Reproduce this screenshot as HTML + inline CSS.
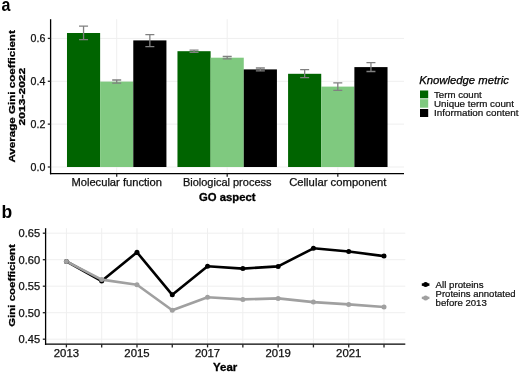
<!DOCTYPE html>
<html><head><meta charset="utf-8"><style>
html,body{margin:0;padding:0;background:#fff;overflow:hidden;width:520px;height:372px;}
svg{display:block;font-family:"Liberation Sans", sans-serif;will-change:transform;}
</style></head><body>
<svg width="520" height="372" viewBox="0 0 520 372">
<rect width="520" height="372" fill="#fff"/>
<line x1="50.6" x2="404.0" y1="167.00" y2="167.00" stroke="#efefef" stroke-width="1"/>
<line x1="50.6" x2="404.0" y1="124.13" y2="124.13" stroke="#efefef" stroke-width="1"/>
<line x1="50.6" x2="404.0" y1="81.27" y2="81.27" stroke="#efefef" stroke-width="1"/>
<line x1="50.6" x2="404.0" y1="38.40" y2="38.40" stroke="#efefef" stroke-width="1"/>
<line x1="116.7" x2="116.7" y1="19.2" y2="173.65" stroke="#efefef" stroke-width="1"/>
<line x1="227.2" x2="227.2" y1="19.2" y2="173.65" stroke="#efefef" stroke-width="1"/>
<line x1="337.8" x2="337.8" y1="19.2" y2="173.65" stroke="#efefef" stroke-width="1"/>
<rect x="66.98" y="33.00" width="33.15" height="134.00" fill="#006400"/>
<rect x="100.12" y="81.60" width="33.15" height="85.40" fill="#7fc97f"/>
<rect x="133.28" y="40.40" width="33.15" height="126.60" fill="#000000"/>
<rect x="177.47" y="51.20" width="33.15" height="115.80" fill="#006400"/>
<rect x="210.62" y="57.70" width="33.15" height="109.30" fill="#7fc97f"/>
<rect x="243.77" y="69.40" width="33.15" height="97.60" fill="#000000"/>
<rect x="288.08" y="73.80" width="33.15" height="93.20" fill="#006400"/>
<rect x="321.23" y="86.60" width="33.15" height="80.40" fill="#7fc97f"/>
<rect x="354.38" y="67.10" width="33.15" height="99.90" fill="#000000"/>
<path d="M79.05 26.2H88.05M83.55 26.2V39.7M79.05 39.7H88.05" stroke="#808080" stroke-width="1.3" fill="none"/>
<path d="M112.20 80.0H121.20M116.70 80.0V83.1M112.20 83.1H121.20" stroke="#808080" stroke-width="1.3" fill="none"/>
<path d="M145.35 34.6H154.35M149.85 34.6V46.6M145.35 46.6H154.35" stroke="#808080" stroke-width="1.3" fill="none"/>
<path d="M189.55 50.1H198.55M194.05 50.1V52.3M189.55 52.3H198.55" stroke="#808080" stroke-width="1.3" fill="none"/>
<path d="M222.70 56.5H231.70M227.20 56.5V58.8M222.70 58.8H231.70" stroke="#808080" stroke-width="1.3" fill="none"/>
<path d="M255.85 68.0H264.85M260.35 68.0V70.8M255.85 70.8H264.85" stroke="#808080" stroke-width="1.3" fill="none"/>
<path d="M300.15 69.6H309.15M304.65 69.6V77.7M300.15 77.7H309.15" stroke="#808080" stroke-width="1.3" fill="none"/>
<path d="M333.30 82.8H342.30M337.80 82.8V90.4M333.30 90.4H342.30" stroke="#808080" stroke-width="1.3" fill="none"/>
<path d="M366.45 62.7H375.45M370.95 62.7V71.5M366.45 71.5H375.45" stroke="#808080" stroke-width="1.3" fill="none"/>
<line x1="50.6" x2="50.6" y1="19.2" y2="174.3" stroke="#000" stroke-width="1.3"/>
<line x1="49.95" x2="404.0" y1="173.65" y2="173.65" stroke="#000" stroke-width="1.3"/>
<line x1="47.800000000000004" x2="50.6" y1="167.00" y2="167.00" stroke="#222" stroke-width="1.3"/>
<line x1="47.800000000000004" x2="50.6" y1="124.13" y2="124.13" stroke="#222" stroke-width="1.3"/>
<line x1="47.800000000000004" x2="50.6" y1="81.27" y2="81.27" stroke="#222" stroke-width="1.3"/>
<line x1="47.800000000000004" x2="50.6" y1="38.40" y2="38.40" stroke="#222" stroke-width="1.3"/>
<line x1="116.7" x2="116.7" y1="173.65" y2="176.65" stroke="#222" stroke-width="1.3"/>
<line x1="227.2" x2="227.2" y1="173.65" y2="176.65" stroke="#222" stroke-width="1.3"/>
<line x1="337.8" x2="337.8" y1="173.65" y2="176.65" stroke="#222" stroke-width="1.3"/>
<text x="45.3" y="170.90" text-anchor="end" font-size="10" fill="#111" stroke="#111" stroke-width="0.25" textLength="14.8" lengthAdjust="spacingAndGlyphs">0.0</text>
<text x="45.3" y="128.03" text-anchor="end" font-size="10" fill="#111" stroke="#111" stroke-width="0.25" textLength="14.8" lengthAdjust="spacingAndGlyphs">0.2</text>
<text x="45.3" y="85.17" text-anchor="end" font-size="10" fill="#111" stroke="#111" stroke-width="0.25" textLength="14.8" lengthAdjust="spacingAndGlyphs">0.4</text>
<text x="45.3" y="42.30" text-anchor="end" font-size="10" fill="#111" stroke="#111" stroke-width="0.25" textLength="14.8" lengthAdjust="spacingAndGlyphs">0.6</text>
<text x="71.40" y="185.7" font-size="10.1" fill="#111" stroke="#111" stroke-width="0.25" textLength="90.6" lengthAdjust="spacingAndGlyphs">Molecular function</text>
<text x="182.90" y="185.7" font-size="10.1" fill="#111" stroke="#111" stroke-width="0.25" textLength="88.6" lengthAdjust="spacingAndGlyphs">Biological process</text>
<text x="289.20" y="185.7" font-size="10.1" fill="#111" stroke="#111" stroke-width="0.25" textLength="97.2" lengthAdjust="spacingAndGlyphs">Cellular component</text>
<text x="199.10" y="200.6" font-size="10.1" font-weight="bold" stroke="#000" stroke-width="0.3" fill="#000" textLength="56.4" lengthAdjust="spacingAndGlyphs">GO aspect</text>
<text transform="translate(14.6 96.4) rotate(-90)" text-anchor="middle" font-size="9.9" font-weight="bold" stroke="#000" stroke-width="0.3" textLength="132.4" lengthAdjust="spacingAndGlyphs">Average Gini coefficient</text>
<text transform="translate(24.9 96.6) rotate(-90)" text-anchor="middle" font-size="9.3" font-weight="bold" stroke="#000" stroke-width="0.3" textLength="57.8" lengthAdjust="spacingAndGlyphs">2013-2022</text>
<text x="1.5" y="10.8" font-size="18" font-weight="bold" textLength="8.9" lengthAdjust="spacingAndGlyphs">a</text>
<text x="419.2" y="83.8" font-size="10" font-style="italic" fill="#000" stroke="#000" stroke-width="0.25" textLength="89.8" lengthAdjust="spacingAndGlyphs">Knowledge metric</text>
<rect x="420" y="90.5" width="8.2" height="7.80" fill="#006400"/>
<text x="434.0" y="98.0" font-size="9.2" fill="#111" stroke="#111" stroke-width="0.22" textLength="47.8" lengthAdjust="spacingAndGlyphs">Term count</text>
<rect x="420" y="99.2" width="8.2" height="8.50" fill="#7fc97f"/>
<text x="434.0" y="107.0" font-size="9.2" fill="#111" stroke="#111" stroke-width="0.22" textLength="80.0" lengthAdjust="spacingAndGlyphs">Unique term count</text>
<rect x="420" y="109.0" width="8.2" height="8.00" fill="#000000"/>
<text x="434.0" y="116.1" font-size="9.2" fill="#111" stroke="#111" stroke-width="0.22" textLength="84.4" lengthAdjust="spacingAndGlyphs">Information content</text>
<line x1="45.6" x2="405.3" y1="339.20" y2="339.20" stroke="#efefef" stroke-width="1"/>
<line x1="45.6" x2="405.3" y1="312.70" y2="312.70" stroke="#efefef" stroke-width="1"/>
<line x1="45.6" x2="405.3" y1="286.20" y2="286.20" stroke="#efefef" stroke-width="1"/>
<line x1="45.6" x2="405.3" y1="259.70" y2="259.70" stroke="#efefef" stroke-width="1"/>
<line x1="45.6" x2="405.3" y1="233.20" y2="233.20" stroke="#efefef" stroke-width="1"/>
<line x1="66.40" x2="66.40" y1="228.2" y2="344.2" stroke="#efefef" stroke-width="1"/>
<line x1="101.69" x2="101.69" y1="228.2" y2="344.2" stroke="#efefef" stroke-width="1"/>
<line x1="136.98" x2="136.98" y1="228.2" y2="344.2" stroke="#efefef" stroke-width="1"/>
<line x1="172.27" x2="172.27" y1="228.2" y2="344.2" stroke="#efefef" stroke-width="1"/>
<line x1="207.56" x2="207.56" y1="228.2" y2="344.2" stroke="#efefef" stroke-width="1"/>
<line x1="242.85" x2="242.85" y1="228.2" y2="344.2" stroke="#efefef" stroke-width="1"/>
<line x1="278.14" x2="278.14" y1="228.2" y2="344.2" stroke="#efefef" stroke-width="1"/>
<line x1="313.43" x2="313.43" y1="228.2" y2="344.2" stroke="#efefef" stroke-width="1"/>
<line x1="348.72" x2="348.72" y1="228.2" y2="344.2" stroke="#efefef" stroke-width="1"/>
<line x1="384.01" x2="384.01" y1="228.2" y2="344.2" stroke="#efefef" stroke-width="1"/>
<polyline points="66.40,261.4 101.69,281.0 136.98,252.3 172.27,294.8 207.56,266.2 242.85,268.6 278.14,266.4 313.43,248.3 348.72,251.5 384.01,256.1" fill="none" stroke="#000" stroke-width="2.6" stroke-linejoin="round"/>
<polyline points="66.40,261.4 101.69,279.6 136.98,284.8 172.27,310.3 207.56,297.2 242.85,299.4 278.14,298.4 313.43,302.1 348.72,304.4 384.01,307.0" fill="none" stroke="#a0a0a0" stroke-width="2.6" stroke-linejoin="round"/>
<circle cx="66.40" cy="261.4" r="2.5" fill="#000"/>
<circle cx="101.69" cy="281.0" r="2.5" fill="#000"/>
<circle cx="136.98" cy="252.3" r="2.5" fill="#000"/>
<circle cx="172.27" cy="294.8" r="2.5" fill="#000"/>
<circle cx="207.56" cy="266.2" r="2.5" fill="#000"/>
<circle cx="242.85" cy="268.6" r="2.5" fill="#000"/>
<circle cx="278.14" cy="266.4" r="2.5" fill="#000"/>
<circle cx="313.43" cy="248.3" r="2.5" fill="#000"/>
<circle cx="348.72" cy="251.5" r="2.5" fill="#000"/>
<circle cx="384.01" cy="256.1" r="2.5" fill="#000"/>
<circle cx="66.40" cy="261.4" r="2.5" fill="#a0a0a0"/>
<circle cx="101.69" cy="279.6" r="2.5" fill="#a0a0a0"/>
<circle cx="136.98" cy="284.8" r="2.5" fill="#a0a0a0"/>
<circle cx="172.27" cy="310.3" r="2.5" fill="#a0a0a0"/>
<circle cx="207.56" cy="297.2" r="2.5" fill="#a0a0a0"/>
<circle cx="242.85" cy="299.4" r="2.5" fill="#a0a0a0"/>
<circle cx="278.14" cy="298.4" r="2.5" fill="#a0a0a0"/>
<circle cx="313.43" cy="302.1" r="2.5" fill="#a0a0a0"/>
<circle cx="348.72" cy="304.4" r="2.5" fill="#a0a0a0"/>
<circle cx="384.01" cy="307.0" r="2.5" fill="#a0a0a0"/>
<line x1="45.6" x2="45.6" y1="228.2" y2="344.84999999999997" stroke="#000" stroke-width="1.3"/>
<line x1="44.95" x2="405.3" y1="344.2" y2="344.2" stroke="#000" stroke-width="1.3"/>
<line x1="42.800000000000004" x2="45.6" y1="339.20" y2="339.20" stroke="#222" stroke-width="1.3"/>
<line x1="42.800000000000004" x2="45.6" y1="312.70" y2="312.70" stroke="#222" stroke-width="1.3"/>
<line x1="42.800000000000004" x2="45.6" y1="286.20" y2="286.20" stroke="#222" stroke-width="1.3"/>
<line x1="42.800000000000004" x2="45.6" y1="259.70" y2="259.70" stroke="#222" stroke-width="1.3"/>
<line x1="42.800000000000004" x2="45.6" y1="233.20" y2="233.20" stroke="#222" stroke-width="1.3"/>
<line x1="66.40" x2="66.40" y1="344.2" y2="347.4" stroke="#222" stroke-width="1.3"/>
<line x1="101.69" x2="101.69" y1="344.2" y2="347.4" stroke="#222" stroke-width="1.3"/>
<line x1="136.98" x2="136.98" y1="344.2" y2="347.4" stroke="#222" stroke-width="1.3"/>
<line x1="172.27" x2="172.27" y1="344.2" y2="347.4" stroke="#222" stroke-width="1.3"/>
<line x1="207.56" x2="207.56" y1="344.2" y2="347.4" stroke="#222" stroke-width="1.3"/>
<line x1="242.85" x2="242.85" y1="344.2" y2="347.4" stroke="#222" stroke-width="1.3"/>
<line x1="278.14" x2="278.14" y1="344.2" y2="347.4" stroke="#222" stroke-width="1.3"/>
<line x1="313.43" x2="313.43" y1="344.2" y2="347.4" stroke="#222" stroke-width="1.3"/>
<line x1="348.72" x2="348.72" y1="344.2" y2="347.4" stroke="#222" stroke-width="1.3"/>
<line x1="384.01" x2="384.01" y1="344.2" y2="347.4" stroke="#222" stroke-width="1.3"/>
<text x="40.2" y="343.40" text-anchor="end" font-size="10" fill="#111" stroke="#111" stroke-width="0.25" textLength="21.6" lengthAdjust="spacingAndGlyphs">0.45</text>
<text x="40.2" y="316.90" text-anchor="end" font-size="10" fill="#111" stroke="#111" stroke-width="0.25" textLength="21.6" lengthAdjust="spacingAndGlyphs">0.50</text>
<text x="40.2" y="290.40" text-anchor="end" font-size="10" fill="#111" stroke="#111" stroke-width="0.25" textLength="21.6" lengthAdjust="spacingAndGlyphs">0.55</text>
<text x="40.2" y="263.90" text-anchor="end" font-size="10" fill="#111" stroke="#111" stroke-width="0.25" textLength="21.6" lengthAdjust="spacingAndGlyphs">0.60</text>
<text x="40.2" y="237.40" text-anchor="end" font-size="10" fill="#111" stroke="#111" stroke-width="0.25" textLength="21.6" lengthAdjust="spacingAndGlyphs">0.65</text>
<text x="53.80" y="356.6" font-size="10" fill="#111" stroke="#111" stroke-width="0.25" textLength="25.2" lengthAdjust="spacingAndGlyphs">2013</text>
<text x="124.38" y="356.6" font-size="10" fill="#111" stroke="#111" stroke-width="0.25" textLength="25.2" lengthAdjust="spacingAndGlyphs">2015</text>
<text x="194.96" y="356.6" font-size="10" fill="#111" stroke="#111" stroke-width="0.25" textLength="25.2" lengthAdjust="spacingAndGlyphs">2017</text>
<text x="265.54" y="356.6" font-size="10" fill="#111" stroke="#111" stroke-width="0.25" textLength="25.2" lengthAdjust="spacingAndGlyphs">2019</text>
<text x="336.12" y="356.6" font-size="10" fill="#111" stroke="#111" stroke-width="0.25" textLength="25.2" lengthAdjust="spacingAndGlyphs">2021</text>
<text x="213.10" y="370.9" font-size="10.1" font-weight="bold" stroke="#000" stroke-width="0.3" textLength="24.2" lengthAdjust="spacingAndGlyphs">Year</text>
<text transform="translate(14.7 285.4) rotate(-90)" text-anchor="middle" font-size="9.9" font-weight="bold" stroke="#000" stroke-width="0.3" textLength="82.6" lengthAdjust="spacingAndGlyphs">Gini coefficient</text>
<text x="1.6" y="217.6" font-size="17.5" font-weight="bold">b</text>
<line x1="421.8" x2="429.4" y1="284.6" y2="284.6" stroke="#000" stroke-width="2.6"/>
<circle cx="425.6" cy="284.6" r="2.5" fill="#000"/>
<line x1="421.8" x2="429.4" y1="297.9" y2="297.9" stroke="#a0a0a0" stroke-width="2.4"/>
<circle cx="425.6" cy="297.9" r="2.5" fill="#a0a0a0"/>
<text x="435.6" y="287.7" font-size="9.2" fill="#111" stroke="#111" stroke-width="0.22" textLength="48.0" lengthAdjust="spacingAndGlyphs">All proteins</text>
<text x="435.6" y="296.6" font-size="9.2" fill="#111" stroke="#111" stroke-width="0.22" textLength="80.0" lengthAdjust="spacingAndGlyphs">Proteins annotated</text>
<text x="435.6" y="305.8" font-size="9.2" fill="#111" stroke="#111" stroke-width="0.22" textLength="51.2" lengthAdjust="spacingAndGlyphs">before 2013</text>
</svg>
</body></html>
